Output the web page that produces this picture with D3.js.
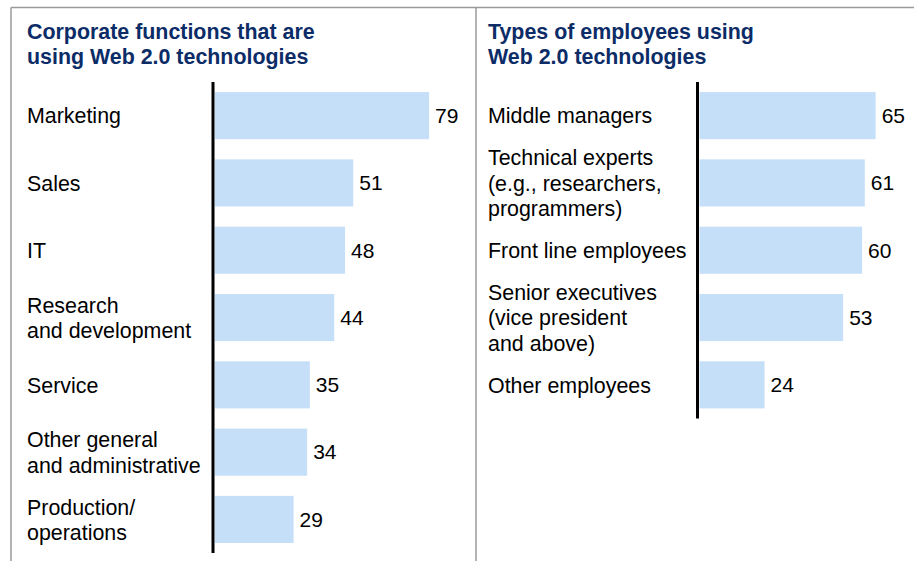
<!DOCTYPE html>
<html><head><meta charset="utf-8">
<script src="https://cdn.jsdelivr.net/npm/d3@7"></script>
<style>html,body{margin:0;padding:0;background:#fff;}svg{display:block;}</style>
</head><body>
<script>
const leftTitle = ["Corporate functions that are", "using Web 2.0 technologies"];
const leftCategories = [
  ["Marketing"], ["Sales"], ["IT"], ["Research", "and development"], ["Service"],
  ["Other general", "and administrative"], ["Production/", "operations"]
];
const leftValues = [79, 51, 48, 44, 35, 34, 29];

const rightTitle = ["Types of employees using", "Web 2.0 technologies"];
const rightCategories = [
  ["Middle managers"], ["Technical experts", "(e.g., researchers,", "programmers)"],
  ["Front line employees"], ["Senior executives", "(vice president", "and above)"], ["Other employees"]
];
const rightValues = [65, 61, 60, 53, 24];

const W = 914, H = 561;
const svg = d3.select("body").append("svg").attr("width", W).attr("height", H);

// frame
const frame = svg.append("g").attr("stroke", "#9a9a9a").attr("stroke-width", 1.5).attr("fill", "none");
frame.append("line").attr("x1", 11).attr("x2", W).attr("y1", 7.5).attr("y2", 7.5);
frame.append("line").attr("x1", 11).attr("x2", 11).attr("y1", 7.5).attr("y2", H);
frame.append("line").attr("x1", 476).attr("x2", 476).attr("y1", 7.5).attr("y2", H);

const FONT = "Arial, 'Liberation Sans', Helvetica, sans-serif";
const STEP = 67.3;

function panel(opts) {
  const g = svg.append("g");
  const {title, cats, vals, textX, barX} = opts;
  // title
  const t = g.append("text").attr("x", textX).attr("y", 38.5)
    .attr("font-family", FONT).attr("font-size", 21.4).attr("font-weight", "bold").attr("fill", "#0b2c67");
  title.forEach((s, i) => t.append("tspan").attr("x", textX).attr("y", 38.5 + i * 25).text(s));

  const keys = cats.map((c, i) => i);
  const y = d3.scaleBand().domain(keys).range([82, 82 + keys.length * STEP])
    .paddingInner(0.3).paddingOuter(0.15);
  const x = d3.scaleLinear().domain([0, 100]).range([barX, barX + 271]);

  g.selectAll("rect.bar").data(vals).join("rect").attr("class", "bar")
    .attr("x", x(0)).attr("y", (d, i) => y(i))
    .attr("width", d => x(d) - x(0)).attr("height", y.bandwidth())
    .attr("fill", "#c6dff9");

  g.selectAll("text.val").data(vals).join("text").attr("class", "val")
    .attr("x", d => x(d) + 6).attr("y", (d, i) => y(i) + y.bandwidth() / 2 + 7.3)
    .attr("font-family", FONT).attr("font-size", 21).attr("fill", "#000")
    .text(d => d);

  cats.forEach((lines, i) => {
    const cy = y(i) + y.bandwidth() / 2 + 7.8;
    const tx = g.append("text").attr("font-family", FONT).attr("font-size", 21.4).attr("fill", "#000");
    lines.forEach((s, j) => {
      tx.append("tspan").attr("x", textX).attr("y", cy + (j - (lines.length - 1) / 2) * 25.5).text(s);
    });
  });

  // axis line
  const [r0, r1] = y.range();
  g.append("line").attr("x1", x(0) - 2).attr("x2", x(0) - 2).attr("y1", r0).attr("y2", r1)
    .attr("stroke", "#000").attr("stroke-width", 3);
}

panel({title: leftTitle, cats: leftCategories, vals: leftValues, textX: 27, barX: 215});
panel({title: rightTitle, cats: rightCategories, vals: rightValues, textX: 488, barX: 699.5});
</script>
</body></html>
